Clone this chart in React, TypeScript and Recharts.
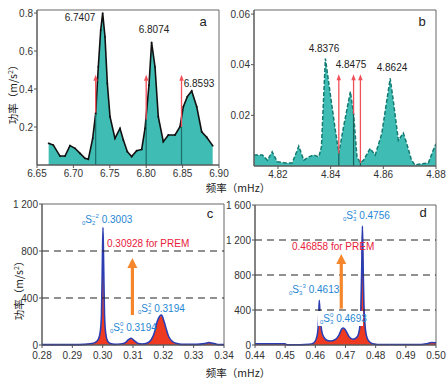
import React from 'react';
import { ComposedChart, Area, Line, XAxis, YAxis, ReferenceLine, ReferenceArea } from 'recharts';

// ---------- Panel a ----------
const aFreq = [6.666, 6.6724, 6.6816, 6.6885, 6.6953, 6.7022, 6.7091, 6.7159, 6.7205, 6.7265, 6.7306, 6.7342, 6.7375, 6.7402, 6.7434, 6.7466, 6.7503, 6.7571, 6.764, 6.7686, 6.7741, 6.78, 6.7869, 6.7938, 6.7984, 6.8038, 6.8074, 6.8121, 6.8166, 6.8235, 6.8304, 6.8396, 6.8464, 6.851, 6.8565, 6.8625, 6.8694, 6.8762, 6.8831, 6.8913];
const aPower = [0.114, 0.105, 0.047, 0.047, 0.102, 0.088, 0.061, 0.035, 0.03, 0.14, 0.272, 0.517, 0.71, 0.8, 0.675, 0.43, 0.254, 0.14, 0.193, 0.132, 0.07, 0.044, 0.075, 0.082, 0.193, 0.42, 0.645, 0.517, 0.254, 0.123, 0.158, 0.158, 0.202, 0.307, 0.36, 0.39, 0.307, 0.175, 0.146, 0.102];
const aXTicks = [6.65, 6.7, 6.75, 6.8, 6.85, 6.9];
const aYTicks = [0.2, 0.4, 0.6, 0.8];
const aMarkFreq = [6.7306, 6.8, 6.8485];
const aMarkBase = [0.272, 0.24, 0.2];
const aArrowTop = 0.475;
const aPeakLabels = ['6.7407', '6.8074', '6.8593'];

// ---------- Panel b ----------
const bFreq = [4.8109, 4.8141, 4.816, 4.8178, 4.8197, 4.8228, 4.8254, 4.8279, 4.8298, 4.8317, 4.8336, 4.8355, 4.8365, 4.838, 4.8397, 4.8418, 4.8431, 4.845, 4.8475, 4.8487, 4.85, 4.8513, 4.8525, 4.855, 4.8569, 4.8594, 4.8613, 4.8626, 4.8638, 4.8657, 4.8676, 4.8689, 4.8707, 4.872, 4.8739, 4.8771, 4.8787, 4.88];
const bPower = [0.0043, 0.0043, 0.0023, 0.0056, 0.0017, 0.0012, 0.0012, 0.0078, 0.0023, 0.0036, 0.0043, 0.0036, 0.0075, 0.0424, 0.0296, 0.014, 0.005, 0.016, 0.0294, 0.0205, 0.0036, 0.0012, 0.0023, 0.0069, 0.0043, 0.0127, 0.0257, 0.0346, 0.0257, 0.0101, 0.013, 0.0088, 0.0023, 0.0004, 0.0008, 0.0012, 0.0056, 0.0088];
const bXTicks = [4.82, 4.84, 4.86, 4.88];
const bYTicks = [0.02, 0.04, 0.06];
const bMarkFreq = [4.8431, 4.8487, 4.8513];
const bMarkBase = [0.005, 0.0205, 0.0012];
const bArrowTop = 0.0362;
const bPeakLabels = ['4.8376', '4.8475', '4.8624'];

// ---------- Panel c ----------
const cFreq = [0.28, 0.29, 0.294, 0.296, 0.2975, 0.2985, 0.2992, 0.2996, 0.2999, 0.3001, 0.3003, 0.3006, 0.301, 0.3016, 0.3025, 0.304, 0.306, 0.3075, 0.3085, 0.3094, 0.3103, 0.3115, 0.313, 0.3145, 0.316, 0.317, 0.318, 0.3188, 0.3194, 0.32, 0.3208, 0.3218, 0.323, 0.3245, 0.326, 0.331, 0.3335, 0.335, 0.3365, 0.338, 0.34];
const cObserved = [3, 3, 5, 10, 20, 45, 110, 250, 700, 1000, 720, 260, 100, 35, 12, 5, 8, 20, 45, 58, 40, 15, 8, 15, 45, 100, 200, 245, 255, 220, 150, 70, 30, 12, 5, 5, 12, 20, 14, 4, 3];
const cModel = [0, 0, 3, 10, 18, 45, 100, 170, 500, 720, 400, 170, 90, 30, 8, 3, 6, 18, 40, 52, 35, 12, 6, 14, 42, 95, 190, 238, 245, 210, 140, 65, 26, 8, 2, 2, 10, 16, 10, 2, 0];
const cXTicks = [0.28, 0.29, 0.3, 0.31, 0.32, 0.33, 0.34];
const cYTicks = [0, 400, 800, 1200];
const cYTickLabels = ['0', '400', '800', '1 200'];
const cDashed = [400, 800];
const cArrow = { f: 0.3098, from: 255, to: 740 };

// ---------- Panel d ----------
const dFreq = [0.44, 0.45, 0.4505, 0.455, 0.458, 0.4595, 0.4603, 0.4608, 0.4611, 0.4613, 0.4616, 0.4621, 0.4628, 0.4638, 0.465, 0.4665, 0.4678, 0.4688, 0.4693, 0.47, 0.4712, 0.4725, 0.4738, 0.4746, 0.4751, 0.4754, 0.4756, 0.4758, 0.4761, 0.4767, 0.4776, 0.479, 0.482, 0.495, 0.497, 0.4985, 0.5];
const dObserved = [15, 15, 3, 3, 8, 25, 70, 150, 300, 510, 320, 160, 90, 55, 45, 60, 110, 185, 195, 170, 95, 65, 90, 170, 420, 900, 1360, 1000, 450, 150, 50, 15, 5, 5, 15, 28, 25];
const dModel = [8, 8, 2, 2, 5, 20, 60, 120, 200, 270, 220, 130, 80, 50, 42, 55, 100, 175, 185, 160, 88, 60, 85, 160, 400, 700, 1250, 800, 400, 140, 45, 12, 3, 3, 12, 25, 22];
const dXTicks = [0.44, 0.45, 0.46, 0.47, 0.48, 0.49, 0.5];
const dYTicks = [0, 400, 800, 1200, 1600];
const dYTickLabels = ['0', '400', '800', '1 200', '1 600'];
const dDashed = [400, 800, 1200];
const dArrow = { f: 0.4686, from: 415, to: 1040 };

const aData = aFreq.map((f, i) => ({ f, p: aPower[i] }));
const bData = bFreq.map((f, i) => ({ f, p: bPower[i] }));
const cData = cFreq.map((f, i) => ({ f, obs: cObserved[i], model: cModel[i] }));
const dData = dFreq.map((f, i) => ({ f, obs: dObserved[i], model: dModel[i] }));

const FONT = '"Liberation Sans", Arial, sans-serif';
const CJK = '"Noto Sans CJK SC", "Liberation Sans", sans-serif';
const TEAL = '#3fbcb3';
const RED = '#ef3a22';
const BLUE = '#2b3db0';
const LBLUE = '#1f86d4';
const ORANGE = '#f6862c';
const tickStyle = { fontSize: 10, fill: '#333', fontFamily: FONT };

function makeArrow(color: string, w: number, hw: number, hh: number) {
  return (props: any) => {
    const { x1, y1, y2 } = props;
    if (x1 == null || y1 == null || y2 == null) return <g />;
    const top = Math.min(y1, y2);
    const bot = Math.max(y1, y2);
    return (
      <g>
        <line x1={x1} y1={bot} x2={x1} y2={top + hh - 0.5} stroke={color} strokeWidth={w} />
        <polygon points={`${x1 - hw / 2},${top + hh} ${x1 + hw / 2},${top + hh} ${x1},${top}`} fill={color} />
      </g>
    );
  };
}
const thinRedArrow = makeArrow('#f0505a', 1.3, 4.5, 6);
const bigOrangeArrow = makeArrow(ORANGE, 3.2, 10, 10);

function fmt2(v: number) {
  return v.toFixed(2);
}

function ModeLabel({ x, y, l, m, value }: { x: number; y: number; l: string; m: string; value: string }) {
  return (
    <text x={x} y={y} fontSize={10} fill={LBLUE} fontFamily={FONT}>
      <tspan fontSize={6} dy={2}>0</tspan>
      <tspan dy={-2}>S</tspan>
      <tspan fontSize={6} dy={2}>{l}</tspan>
      <tspan fontSize={6} dx={-3.3} dy={-7}>{m}</tspan>
      <tspan dy={5}>{'\u00a0' + value}</tspan>
    </text>
  );
}

export default function App() {
  return (
    <div style={{ position: 'absolute', left: 0, top: 0, width: 448, height: 386, background: '#fff' }}>
      {/* Panel a */}
      <div style={{ position: 'absolute', left: 0, top: 0 }}>
        <ComposedChart width={234} height={190} data={aData} margin={{ top: 10, right: 15, bottom: 5, left: 0 }}>
          <XAxis dataKey="f" type="number" domain={[6.65, 6.9]} ticks={aXTicks} tickFormatter={fmt2} height={20} tick={tickStyle} tickSize={3} tickMargin={2} stroke="#555" interval={0} />
          <YAxis type="number" domain={[0, 0.816]} ticks={aYTicks} tickFormatter={(v: number) => v.toFixed(1)} width={37} tick={tickStyle} tickSize={3} tickMargin={1} stroke="#555" interval={0} />
          <Area dataKey="p" type="linear" fill={TEAL} fillOpacity={1} stroke="#111" strokeWidth={1.6} dot={{ r: 0.9, fill: '#111', stroke: 'none' }} isAnimationActive={false} />
          {aMarkFreq.map((f, i) => (
            <ReferenceLine key={'ad' + i} segment={[{ x: f, y: 0 }, { x: f, y: aMarkBase[i] }]} stroke="#1b6e69" strokeWidth={1.2} />
          ))}
          {aMarkFreq.map((f, i) => (
            <ReferenceLine key={'ar' + i} segment={[{ x: f, y: aMarkBase[i] }, { x: f, y: aArrowTop }]} shape={thinRedArrow} />
          ))}
          <ReferenceArea x1={6.65} x2={6.9} y1={0} y2={0.816} fill="none" stroke="#666" strokeWidth={1} />
        </ComposedChart>
      </div>

      {/* Panel b */}
      <div style={{ position: 'absolute', left: 224, top: 0 }}>
        <ComposedChart width={224} height={190} data={bData} margin={{ top: 10, right: 12, bottom: 4, left: 0 }}>
          <XAxis dataKey="f" type="number" domain={[4.8109, 4.88]} allowDataOverflow ticks={bXTicks} tickFormatter={fmt2} height={20} tick={tickStyle} tickSize={3} tickMargin={2} stroke="#555" interval={0} />
          <YAxis type="number" domain={[0, 0.0616]} ticks={bYTicks} tickFormatter={fmt2} width={30} tick={tickStyle} tickSize={3} tickMargin={1} stroke="#555" interval={0} />
          <Area dataKey="p" type="linear" fill={TEAL} fillOpacity={1} stroke="#137a72" strokeWidth={1.5} strokeDasharray="4 2" dot={false} isAnimationActive={false} />
          {bMarkFreq.map((f, i) => (
            <ReferenceLine key={'bd' + i} segment={[{ x: f, y: 0 }, { x: f, y: bMarkBase[i] }]} stroke="#1b5e5a" strokeWidth={1.2} />
          ))}
          {bMarkFreq.map((f, i) => (
            <ReferenceLine key={'br' + i} segment={[{ x: f, y: bMarkBase[i] }, { x: f, y: bArrowTop }]} shape={thinRedArrow} />
          ))}
          <ReferenceArea x1={4.8109} x2={4.88} y1={0} y2={0.0616} fill="none" stroke="#666" strokeWidth={1} />
        </ComposedChart>
      </div>

      {/* Panel c */}
      <div style={{ position: 'absolute', left: 0, top: 190 }}>
        <ComposedChart width={240} height={196} data={cData} margin={{ top: 14, right: 16, bottom: 21, left: 0 }}>
          <XAxis dataKey="f" type="number" domain={[0.28, 0.34]} ticks={cXTicks} tickFormatter={fmt2} height={20} tick={tickStyle} tickSize={3} tickMargin={4} stroke="#555" interval={0} />
          <YAxis type="number" domain={[0, 1200]} ticks={cYTicks} tickFormatter={(v: number) => cYTickLabels[cYTicks.indexOf(v)]} width={42} tick={tickStyle} tickSize={3} tickMargin={1} stroke="#555" interval={0} />
          <Area dataKey="model" type="monotone" fill={RED} fillOpacity={1} stroke={RED} strokeWidth={0.8} dot={false} isAnimationActive={false} />
          <Line dataKey="obs" type="monotone" stroke={BLUE} strokeWidth={1.6} dot={false} isAnimationActive={false} />
          {cDashed.map((v) => (
            <ReferenceLine key={'cy' + v} y={v} stroke="#222" strokeWidth={1.2} strokeDasharray="7 5" />
          ))}
          <ReferenceLine segment={[{ x: cArrow.f, y: cArrow.from }, { x: cArrow.f, y: cArrow.to }]} shape={bigOrangeArrow} />
          <ReferenceArea x1={0.28} x2={0.34} y1={0} y2={1200} fill="none" stroke="#666" strokeWidth={1} />
        </ComposedChart>
      </div>

      {/* Panel d */}
      <div style={{ position: 'absolute', left: 212, top: 190 }}>
        <ComposedChart width={236} height={196} data={dData} margin={{ top: 15, right: 12, bottom: 21, left: 0 }}>
          <XAxis dataKey="f" type="number" domain={[0.44, 0.5]} ticks={dXTicks} tickFormatter={fmt2} height={20} tick={tickStyle} tickSize={3} tickMargin={4} stroke="#555" interval={0} />
          <YAxis type="number" domain={[0, 1600]} ticks={dYTicks} tickFormatter={(v: number) => dYTickLabels[dYTicks.indexOf(v)]} width={43} tick={tickStyle} tickSize={3} tickMargin={1} stroke="#555" interval={0} />
          <Area dataKey="model" type="monotone" fill={RED} fillOpacity={1} stroke={RED} strokeWidth={0.8} dot={false} isAnimationActive={false} />
          <Line dataKey="obs" type="monotone" stroke={BLUE} strokeWidth={1.6} dot={false} isAnimationActive={false} />
          {dDashed.map((v) => (
            <ReferenceLine key={'dy' + v} y={v} stroke="#222" strokeWidth={1.2} strokeDasharray="7 5" />
          ))}
          <ReferenceLine segment={[{ x: dArrow.f, y: dArrow.from }, { x: dArrow.f, y: dArrow.to }]} shape={bigOrangeArrow} />
          <ReferenceArea x1={0.44} x2={0.5} y1={0} y2={1600} fill="none" stroke="#666" strokeWidth={1} />
        </ComposedChart>
      </div>

      {/* Annotations */}
      <svg width={448} height={386} style={{ position: 'absolute', left: 0, top: 0, pointerEvents: 'none' }}>
        <g fontFamily={FONT} fontSize={10} fill="#222" textAnchor="middle">
          <text x={80} y={21}>{aPeakLabels[0]}</text>
          <text x={154} y={33}>{aPeakLabels[1]}</text>
          <text x={199} y={87}>{aPeakLabels[2]}</text>
          <text x={324} y={52}>{bPeakLabels[0]}</text>
          <text x={351} y={68}>{bPeakLabels[1]}</text>
          <text x={392} y={71}>{bPeakLabels[2]}</text>
        </g>
        <g fontFamily={FONT} fontSize={13} fill="#222" textAnchor="middle">
          <text x={203} y={26}>a</text>
          <text x={422} y={26}>b</text>
          <text x={210} y={218}>c</text>
          <text x={423} y={217}>d</text>
        </g>
        <g fontFamily={CJK} fontSize={10.5} fill="#222" textAnchor="middle">
          <text x={238} y={192}>频率（mHz）</text>
          <text x={238} y={377}>频率（mHz）</text>
          <text transform="translate(17,92) rotate(-90)">
            功率（m/s<tspan fontSize={7} dy={-4}>2</tspan><tspan dy={4}>）</tspan>
          </text>
          <text transform="translate(23,288) rotate(-90)">
            功率（m/s<tspan fontSize={7} dy={-4}>2</tspan><tspan dy={4}>）</tspan>
          </text>
        </g>
        <ModeLabel x={82} y={223} l="2" m="−2" value="0.3003" />
        <text x={107} y={247} fontSize={10} fill="#e8203a" fontFamily={FONT}>0.30928 for PREM</text>
        <ModeLabel x={138} y={312} l="2" m="2" value="0.3194" />
        <ModeLabel x={110} y={331} l="2" m="0" value="0.3194" />
        <ModeLabel x={343} y={219} l="3" m="3" value="0.4756" />
        <text x={292} y={250} fontSize={10} fill="#e8203a" fontFamily={FONT}>0.46858 for PREM</text>
        <ModeLabel x={289} y={293} l="3" m="−3" value="0.4613" />
        <rect x={318} y={311} width={45} height={15} fill="#fff" />
        <ModeLabel x={320} y={322} l="3" m="0" value="0.4693" />
      </svg>
    </div>
  );
}
